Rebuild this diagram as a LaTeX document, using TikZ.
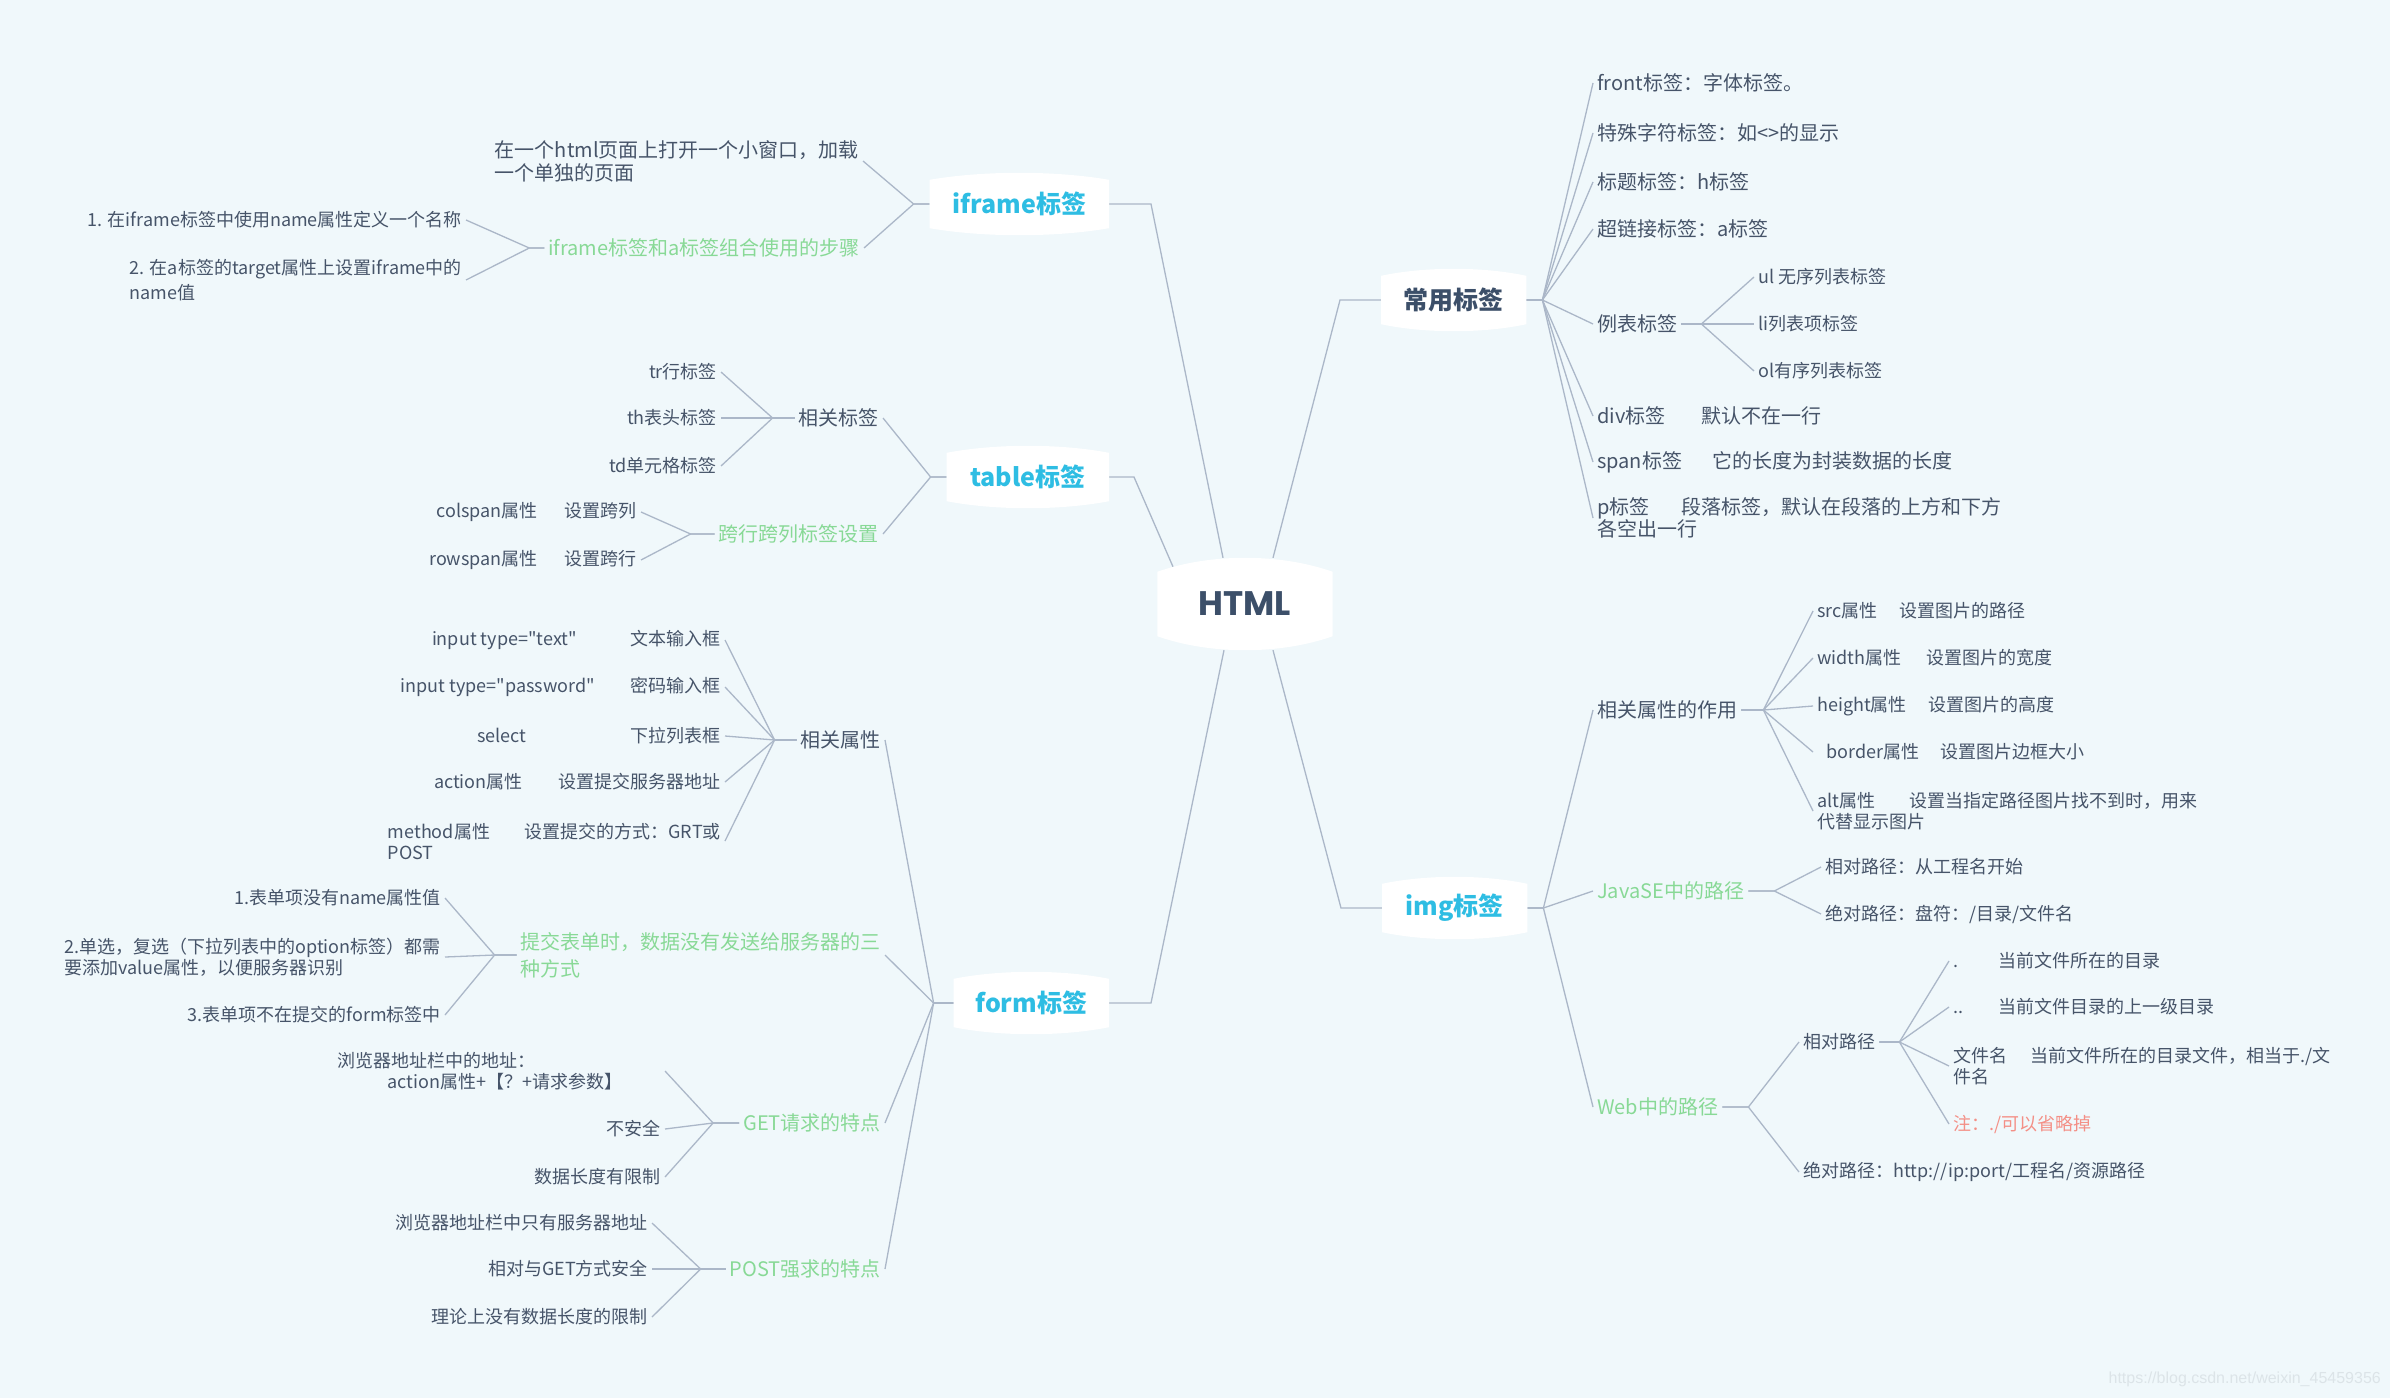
\documentclass[tikz,border=0pt]{standalone}
\usepackage{fontspec}
\setmainfont{Noto Sans CJK SC}
\newfontfamily\geofont{Poppins}
\newfontfamily\markfont{Liberation Sans}
\usetikzlibrary{calc}
\pgfdeclarelayer{bg}
\pgfdeclarelayer{shape}
\pgfsetlayers{bg,shape,main}

\definecolor{bgcol}{HTML}{F0F8FB}
\definecolor{ink}{HTML}{465469}
\definecolor{rootink}{HTML}{3C4F69}
\definecolor{topiccol}{HTML}{2EBDE3}
\definecolor{leafgreen}{HTML}{88D996}
\definecolor{linecol}{HTML}{ABB7C8}
\definecolor{notered}{HTML}{F48F86}
\definecolor{wmcol}{HTML}{DCE4E8}

\newcommand\tabgap[1][1.5em]{\hspace{#1}}
% white box with bulging top and bottom
\newcommand\bubble[2]{%
  \fill[white]
    ([yshift=-#2]#1.north west)
    .. controls ($(#1.north west)!.3!(#1.north east)+(0pt,#2/3)$)
            and ($(#1.north west)!.7!(#1.north east)+(0pt,#2/3)$)
    .. ([yshift=-#2]#1.north east)
    -- ([yshift=#2]#1.south east)
    .. controls ($(#1.south west)!.7!(#1.south east)+(0pt,-#2/3)$)
            and ($(#1.south west)!.3!(#1.south east)+(0pt,-#2/3)$)
    .. ([yshift=#2]#1.south west) -- cycle;}

\tikzset{
  link/.style={draw=linecol, line width=1.3pt},
  root/.style={font=\geofont\bfseries\fontsize{34}{40}\selectfont, text=rootink,
    minimum width=175pt, minimum height=92pt, inner sep=0pt},
  topic/.style={font=\bfseries\fontsize{25}{30}\selectfont, text=topiccol,
    minimum height=62pt, inner sep=0pt},
  branch/.style={font=\fontsize{20}{22}\selectfont, text=ink, inner xsep=4pt,
    inner ysep=2pt, align=left},
  leaf/.style={font=\fontsize{18}{21}\selectfont, text=ink, inner xsep=4pt,
    inner ysep=2pt, align=left},
  sect/.style={text=leafgreen},
}

\begin{document}
\begin{tikzpicture}[x=1pt, y=-1pt]
  \useasboundingbox (0,0) rectangle (2390,1398);

  % Root
  \node[root] (html) at (1245,604) {HTML};

  % 常用标签
  \node[topic, text=rootink, anchor=west, minimum width=145pt] (common) at (1381,300) {常用标签};
  \node[branch, anchor=west] (fonttag) at (1593,83) {front标签：字体标签。};
  \node[branch, anchor=west] (entity) at (1593,133) {特殊字符标签：如<>的显示};
  \node[branch, anchor=west] (heading) at (1593,182) {标题标签：h标签};
  \node[branch, anchor=west] (hlink) at (1593,229) {超链接标签：a标签};
  \node[branch, anchor=west] (list) at (1593,324) {例表标签};
  \node[leaf, anchor=west] (ul) at (1754,277) {ul 无序列表标签};
  \node[leaf, anchor=west] (li) at (1754,324) {li列表项标签};
  \node[leaf, anchor=west] (ol) at (1754,371) {ol有序列表标签};
  \node[branch, anchor=west] (div) at (1593,416) {div标签\tabgap[1.8em]默认不在一行};
  \node[branch, anchor=west] (span) at (1593,462) {span标签\tabgap[1.5em]它的长度为封装数据的长度};
  \node[branch, anchor=west] (para) at (1593,518) {p标签\tabgap[1.6em]段落标签，默认在段落的上方和下方\\各空出一行};

  % img标签
  \node[topic, anchor=west, minimum width=145pt] (img) at (1382,908) {img标签};
  \node[branch, anchor=west] (imgattr) at (1593,710) {相关属性的作用};
  \node[leaf, anchor=west] (src) at (1813,611) {src属性\tabgap[1.2em]设置图片的路径};
  \node[leaf, anchor=west] (imgwidth) at (1813,658) {width属性\tabgap[1.4em]设置图片的宽度};
  \node[leaf, anchor=west] (imgheight) at (1813,706) {height属性\tabgap[1.2em]设置图片的高度};
  \node[leaf, anchor=west] (border) at (1813,752) {\hspace*{.5em}border属性\tabgap[1.2em]设置图片边框大小};
  \node[leaf, anchor=west] (alt) at (1813,811) {alt属性\tabgap[1.9em]设置当指定路径图片找不到时，用来\\代替显示图片};
  \node[branch, sect, anchor=west] (javase) at (1593,891) {JavaSE中的路径};
  \node[leaf, anchor=west] (serel) at (1821,867) {相对路径：从工程名开始};
  \node[leaf, anchor=west] (seabs) at (1821,914) {绝对路径：盘符：/目录/文件名};
  \node[branch, sect, anchor=west] (web) at (1593,1107) {Web中的路径};
  \node[leaf, anchor=west] (webrel) at (1799,1042) {相对路径};
  \node[leaf, anchor=west] (cur) at (1949,961) {\makebox[2.5em][l]{.}当前文件所在的目录};
  \node[leaf, anchor=west] (updir) at (1949,1007) {\makebox[2.5em][l]{..}当前文件目录的上一级目录};
  \node[leaf, anchor=west] (fname) at (1949,1066) {文件名\tabgap[1.3em]当前文件所在的目录文件，相当于./文\\件名};
  \node[leaf, text=notered, anchor=west] (omit) at (1949,1124) {注：./可以省略掉};
  \node[leaf, anchor=west] (webabs) at (1799,1172) {绝对路径：http://ip:port/工程名/资源路径};

  % iframe标签
  \node[topic, anchor=east, minimum width=179pt] (iframe) at (1109,204) {iframe标签};
  \node[branch, anchor=east, font=\fontsize{20}{23}\selectfont] (iframeuse) at (863,161) {在一个html页面上打开一个小窗口，加载\\一个单独的页面};
  \node[branch, sect, anchor=east] (steps) at (864,248) {iframe标签和a标签组合使用的步骤};
  \node[leaf, anchor=east] (step1) at (466,220) {1. 在iframe标签中使用name属性定义一个名称};
  \node[leaf, anchor=east, font=\fontsize{18}{25}\selectfont] (step2) at (466,280) {2. 在a标签的target属性上设置iframe中的\\name值};

  % table标签
  \node[topic, anchor=east, minimum width=162pt] (tbl) at (1109,477) {table标签};
  \node[branch, anchor=east] (tbltags) at (883,418) {相关标签};
  \node[leaf, anchor=east] (tr) at (721,372) {tr行标签};
  \node[leaf, anchor=east] (th) at (721,418) {th表头标签};
  \node[leaf, anchor=east] (td) at (721,466) {td单元格标签};
  \node[branch, sect, anchor=east] (tblspan) at (883,534) {跨行跨列标签设置};
  \node[leaf, anchor=east] (colspan) at (641,512) {colspan属性\tabgap[1.5em]设置跨列};
  \node[leaf, anchor=east] (rowspan) at (641,560) {rowspan属性\tabgap[1.5em]设置跨行};

  % form标签
  \node[topic, anchor=east, minimum width=155pt] (form) at (1109,1003) {form标签};
  \node[branch, anchor=east] (formattr) at (885,740) {相关属性};
  \node[leaf, anchor=east] (intext) at (725,640) {input type=\textquotedbl text\textquotedbl\tabgap[3em]文本输入框};
  \node[leaf, anchor=east] (inpass) at (725,687) {input type=\textquotedbl password\textquotedbl\tabgap[2em]密码输入框};
  \node[leaf, anchor=east] (select) at (725,736) {select\tabgap[5.8em]下拉列表框};
  \node[leaf, anchor=east] (action) at (725,782) {action属性\tabgap[2em]设置提交服务器地址};
  \node[leaf, anchor=east, text width=333pt] (method) at (725,841) {method属性\hfill 设置提交的方式：GRT或\\POST};
  \node[branch, sect, anchor=east, font=\fontsize{20}{27}\selectfont] (lost) at (885,955) {提交表单时，数据没有发送给服务器的三\\种方式};
  \node[leaf, anchor=east] (why1) at (445,898) {1.表单项没有name属性值};
  \node[leaf, anchor=east] (why2) at (445,957) {2.单选，复选（下拉列表中的option标签）都需\\要添加value属性，以便服务器识别};
  \node[leaf, anchor=east] (why3) at (445,1015) {3.表单项不在提交的form标签中};
  \node[branch, sect, anchor=east] (get) at (885,1123) {GET请求的特点};
  \node[leaf, anchor=east, text width=323pt] (getaddr) at (665,1071) {浏览器地址栏中的地址：\\\hspace*{50pt}action属性+【？+请求参数】};
  \node[leaf, anchor=east] (getsafe) at (665,1129) {不安全};
  \node[leaf, anchor=east] (getlen) at (665,1177) {数据长度有限制};
  \node[branch, sect, anchor=east] (post) at (885,1269) {POST强求的特点};
  \node[leaf, anchor=east] (postaddr) at (652,1223) {浏览器地址栏中只有服务器地址};
  \node[leaf, anchor=east] (postsafe) at (652,1269) {相对与GET方式安全};
  \node[leaf, anchor=east] (postlen) at (652,1317) {理论上没有数据长度的限制};

  \node[font=\markfont\fontsize{16}{18}\selectfont, text=wmcol, anchor=east, inner sep=0pt] (wm) at (2381,1379) {https://blog.csdn.net/weixin\_45459356};

  % White boxes
  \begin{pgfonlayer}{shape}
    \foreach \n/\s in {html/14pt,common/7pt,img/7pt,iframe/7pt,tbl/7pt,form/7pt}{
      \bubble{\n}{\s}
    }
  \end{pgfonlayer}

  % Background and connectors
  \begin{pgfonlayer}{bg}
    \fill[bgcol] (0,0) rectangle (2390,1398);
    \draw[link] ([xshift=-22pt]html.north) -- ([xshift=42pt]iframe.east) -- (iframe.east);
    \draw[link] ([xshift=-72pt,yshift=-9pt]html.north) -- ([xshift=25pt]tbl.east) -- (tbl.east);
    \draw[link] ([xshift=-21pt]html.south) -- ([xshift=42pt]form.east) -- (form.east);
    \draw[link] ([xshift=28pt]html.north) -- ([xshift=-41pt]common.west) -- (common.west);
    \draw[link] ([xshift=28pt]html.south) -- ([xshift=-41pt]img.west) -- (img.west);

    \foreach \c in {fonttag,entity,heading,hlink,list,div,span,para}
      \draw[link] (common.east) -- ++(16,0) -- (\c.west);
    \foreach \c in {ul,li,ol}
      \draw[link] (list.east) -- ++(20,0) -- (\c.west);
    \foreach \c in {imgattr,javase,web}
      \draw[link] (img.east) -- ++(16,0) -- (\c.west);
    \foreach \c in {src,imgwidth,imgheight,border,alt}
      \draw[link] (imgattr.east) -- ++(22,0) -- (\c.west);
    \foreach \c in {serel,seabs}
      \draw[link] (javase.east) -- ++(26,0) -- (\c.west);
    \foreach \c in {webrel,webabs}
      \draw[link] (web.east) -- ++(26,0) -- (\c.west);
    \foreach \c in {cur,updir,fname,omit}
      \draw[link] (webrel.east) -- ++(20,0) -- (\c.west);

    \foreach \c in {iframeuse,steps}
      \draw[link] (iframe.west) -- ++(-16,0) -- (\c.east);
    \foreach \c in {step1,step2}
      \draw[link] (steps.west) -- ++(-15,0) -- (\c.east);
    \foreach \c in {tbltags,tblspan}
      \draw[link] (tbl.west) -- ++(-16,0) -- (\c.east);
    \foreach \c in {tr,th,td}
      \draw[link] (tbltags.west) -- ++(-22,0) -- (\c.east);
    \foreach \c in {colspan,rowspan}
      \draw[link] (tblspan.west) -- ++(-24,0) -- (\c.east);
    \foreach \c in {formattr,lost,get,post}
      \draw[link] (form.west) -- ++(-20,0) -- (\c.east);
    \foreach \c in {intext,inpass,select,action,method}
      \draw[link] (formattr.west) -- ++(-22,0) -- (\c.east);
    \foreach \c in {why1,why2,why3}
      \draw[link] (lost.west) -- ++(-22,0) -- (\c.east);
    \foreach \c in {getaddr,getsafe,getlen}
      \draw[link] (get.west) -- ++(-26,0) -- (\c.east);
    \foreach \c in {postaddr,postsafe,postlen}
      \draw[link] (post.west) -- ++(-25,0) -- (\c.east);
  \end{pgfonlayer}
\end{tikzpicture}
\end{document}
